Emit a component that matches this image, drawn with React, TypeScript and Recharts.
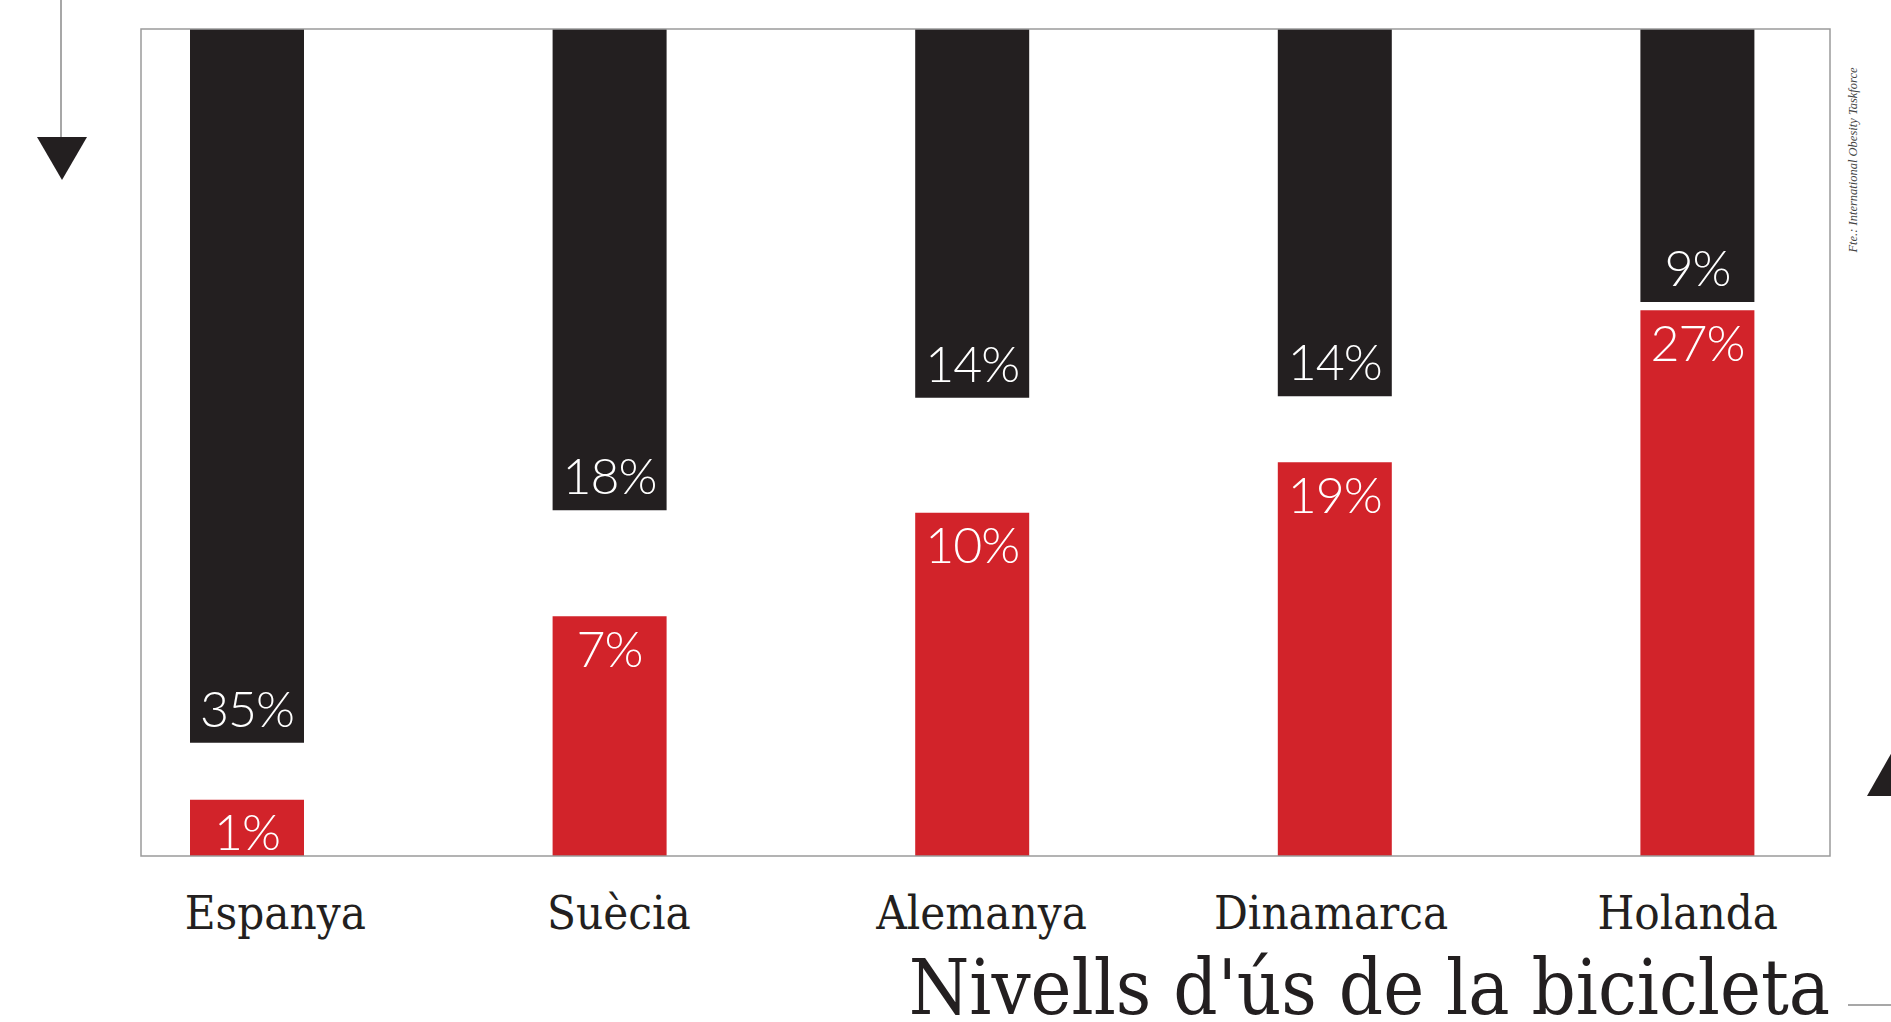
import { BarChart, Bar, XAxis, YAxis, LabelList } from "recharts";

const paisos = ["Espanya", "Suècia", "Alemanya", "Dinamarca", "Holanda"];
// percentages printed on the bars
const obesitatPct = [35, 18, 14, 14, 9];
const biciPct = [1, 7, 10, 19, 27];
// bar lengths as drawn in the original (share of the panel height, %)
const obesitatLlarg = [86.3, 58.2, 44.6, 44.4, 33.0];
const biciLlarg = [6.8, 29.0, 41.5, 47.6, 66.0];

const data = paisos.map((pais, i) => ({
  pais,
  obesitat: obesitatPct[i],
  bici: biciPct[i],
  obesitatLlarg: obesitatLlarg[i],
  biciLlarg: biciLlarg[i],
}));

const NEGRE = "#231f20";
const VERMELL = "#d2232a";
const SERIF = "'DejaVu Serif Condensed', 'DejaVu Serif', serif";
const LABEL_FONT = "Lato, 'Open Sans', sans-serif";
// the printed country names sit a little off the bar centres
const tickNudge = [28, 9, 9, -4, -10];

function PaisTick({ x, y, payload, index }: any) {
  return (
    <text
      x={x + (tickNudge[index] ?? 0)}
      y={y + 73}
      textAnchor="middle"
      fill={NEGRE}
      fontFamily={SERIF}
      fontSize={47}
      style={{ fontStretch: "condensed" }}
    >
      {payload.value}
    </text>
  );
}

export default function App() {
  return (
    <div style={{ position: "relative", width: 1891, height: 1022, background: "#fff" }}>
      <style>{`body{margin:0;}`}</style>
      <BarChart
        width={1891}
        height={1022}
        data={data}
        margin={{ top: 29, right: 12, bottom: 136, left: 66 }}
      >
        <XAxis
          xAxisId="a"
          dataKey="pais"
          height={30}
          axisLine={false}
          tickLine={false}
          tickSize={0}
          tickMargin={0}
          tick={<PaisTick />}
          interval={0}
        />
        <XAxis xAxisId="b" dataKey="pais" hide />
        <YAxis yAxisId="up" domain={[0, 100]} hide />
        <YAxis yAxisId="down" domain={[0, 100]} reversed hide />
        <Bar
          xAxisId="b"
          yAxisId="down"
          dataKey="obesitatLlarg"
          fill={NEGRE}
          barSize={114}
          isAnimationActive={false}
        >
          {/* axis is reversed, so "insideTop" lands at the visual bottom */}
          <LabelList
            dataKey="obesitat"
            position="insideTop"
            offset={16}
            formatter={(v: any) => `${v}%`}
            fill="#fff"
            fontFamily={LABEL_FONT}
            fontWeight={300}
            fontSize={50}
            letterSpacing={-1}
          />
        </Bar>
        <Bar
          xAxisId="a"
          yAxisId="up"
          dataKey="biciLlarg"
          fill={VERMELL}
          barSize={114}
          isAnimationActive={false}
        >
          <LabelList
            dataKey="bici"
            position="insideTop"
            offset={15}
            formatter={(v: any) => `${v}%`}
            fill="#fff"
            fontFamily={LABEL_FONT}
            fontWeight={300}
            fontSize={50}
            letterSpacing={-1}
          />
        </Bar>
      </BarChart>

      <svg
        width={1891}
        height={1022}
        style={{ position: "absolute", left: 0, top: 0, pointerEvents: "none" }}
      >
        <rect x={141} y={29} width={1689} height={827} fill="none" stroke="#9a9a9a" strokeWidth={1.5} />
        <line x1={61} y1={0} x2={61} y2={138} stroke="#8a8a8a" strokeWidth={1.5} />
        <polygon points="37,137 87,137 62,180" fill={NEGRE} />
        <polygon points="1867,796 1917,796 1892,752" fill={NEGRE} />
        <line x1={1848} y1={1005} x2={1891} y2={1005} stroke="#8a8a8a" strokeWidth={1.5} />
        <text
          x={1857}
          y={160}
          transform="rotate(-90, 1857, 160)"
          textAnchor="middle"
          fontFamily="'Liberation Serif', serif"
          fontStyle="italic"
          fontSize={12.5}
          fill="#444"
        >
          Fte.: International Obesity Taskforce
        </text>
        <text
          x={1830}
          y={1014}
          textAnchor="end"
          fontFamily={SERIF}
          fontSize={77}
          fill={NEGRE}
          style={{ fontStretch: "condensed" }}
        >
          Nivells d'ús de la bicicleta
        </text>
      </svg>
    </div>
  );
}
